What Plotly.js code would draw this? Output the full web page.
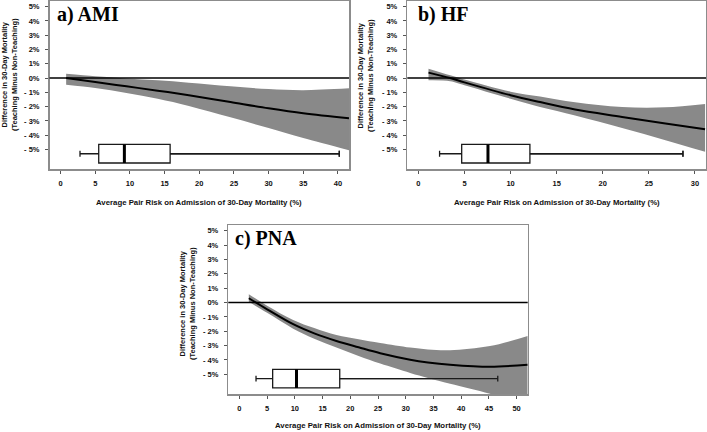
<!DOCTYPE html>
<html>
<head>
<meta charset="utf-8">
<script src="https://cdn.plot.ly/plotly-3.0.1.min.js"></script>
<style>
  body { margin: 0; background: #fff; }
  #graph { width: 707px; height: 432px; }
</style>
</head>
<body>
<div id="graph"></div>
<script>
// values (x = pair risk %, y = difference in mortality %)
const amiX = [0.8, 5, 9.5, 14, 18.5, 24.5, 30, 35, 41.6];
const amiMean = [0.0, -0.28, -0.58, -0.88, -1.2, -1.68, -2.12, -2.47, -2.82];
const amiUpper = [0.3, 0.12, -0.03, -0.16, -0.32, -0.58, -0.77, -0.85, -0.72];
const amiLower = [-0.47, -0.7, -1.05, -1.45, -1.95, -2.75, -3.5, -4.2, -5.05];
const amiBox = [2.8, 5.5, 9.2, 15.8, 40.2]; // lower whisker, q1, median, q3, upper whisker

const hfX = [1.1, 3.45, 5, 10, 13.2, 17, 22.1, 26.8, 31.1];
const hfMean = [0.38, 0.0, -0.3, -1.2, -1.68, -2.2, -2.72, -3.19, -3.59];
const hfUpper = [0.66, 0.2, -0.1, -0.95, -1.29, -1.7, -2.03, -2.05, -1.82];
const hfLower = [-0.16, -0.22, -0.5, -1.45, -2.03, -2.62, -3.5, -4.35, -5.17];
const hfBox = [2.3, 4.7, 7.55, 12.1, 28.7];

const pnaX = [1.7, 5, 9.7, 13.5, 17.5, 21.5, 25.4, 30.8, 34, 38, 45.2, 52];
const pnaMean = [0.3, -0.47, -1.51, -2.15, -2.68, -3.12, -3.53, -3.98, -4.17, -4.33, -4.47, -4.33];
const pnaUpper = [0.58, -0.22, -1.21, -1.78, -2.26, -2.56, -2.82, -3.14, -3.27, -3.32, -3.03, -2.33];
const pnaLower = [0.05, -0.72, -1.82, -2.52, -3.14, -3.72, -4.25, -4.9, -5.25, -5.65, -6.35, -7.2];
const pnaBox = [3.0, 6.0, 10.3, 18.1, 46.6];

const panelLabels = ["a) AMI", "b) HF", "c) PNA"];
const yTickVals = [-5, -4, -3, -2, -1, 0, 1, 2, 3, 4, 5];
const yTickText = ["- 5%", "- 4%", "- 3%", "- 2%", "- 1%", "0%", "1%", "2%", "3%", "4%", "5%"];
const xTitle = "Average Pair Risk on Admission of 30-Day Mortality (%)";
const yTitle = "Difference in 30-Day Mortality<br>(Teaching Minus Non-Teaching)";

// pixel helpers, the page is 707x432 with no margins
const px = (x) => x / 707;
const py = (y) => 1 - y / 432;

const boxY = -5.3;
const boxH = 1.3;
const capW = 0.32;
const bold = { family: "Liberation Sans, Arial, sans-serif", size: 7.5, weight: "bold", color: "#111" };
const titleFont = { family: "Liberation Sans, Arial, sans-serif", size: 7.8, weight: "bold", color: "#111" };

let data = [];

function addPanel(n, xs, mean, upper, lower, box) {
  const xa = n === 1 ? "x" : "x" + n;
  const ya = n === 1 ? "y" : "y" + n;

  // boxplot of pair risk (box layer sits under scatter layer)
  data.push({
    type: "box", orientation: "h", xaxis: xa, yaxis: ya,
    y: [boxY], lowerfence: [box[0]], q1: [box[1]], median: [box[2]], q3: [box[3]], upperfence: [box[4]],
    width: boxH, whiskerwidth: capW, fillcolor: "#fff", boxpoints: false,
    line: { color: "#1a1a1a", width: 1.3 }
  });

  // confidence band
  data.push({ x: xs, y: lower, xaxis: xa, yaxis: ya, mode: "lines",
    line: { width: 0, shape: "spline", smoothing: 1 }, hoverinfo: "skip" });
  data.push({ x: xs, y: upper, xaxis: xa, yaxis: ya, mode: "lines", fill: "tonexty",
    fillcolor: "#898989", line: { width: 0, shape: "spline", smoothing: 1 }, hoverinfo: "skip" });
  // fitted curve
  data.push({ x: xs, y: mean, xaxis: xa, yaxis: ya, mode: "lines",
    line: { color: "#000", width: 2, shape: "spline", smoothing: 1 } });

  // upper whisker redrawn on top so it shows across the band
  const cap = capW * boxH / 2;
  data.push({ x: [box[3], box[4], null, box[4], box[4]], y: [boxY, boxY, null, boxY - cap, boxY + cap],
    xaxis: xa, yaxis: ya, mode: "lines", line: { color: "#1a1a1a", width: 1.3 } });
  // thick median bar
  data.push({ x: [box[2], box[2]], y: [boxY - boxH / 2, boxY + boxH / 2], xaxis: xa, yaxis: ya,
    mode: "lines", line: { color: "#000", width: 3 } });
}

addPanel(1, amiX, amiMean, amiUpper, amiLower, amiBox);
addPanel(2, hfX, hfMean, hfUpper, hfLower, hfBox);
addPanel(3, pnaX, pnaMean, pnaUpper, pnaLower, pnaBox);

function xAxis(anchor, domain, range, max) {
  let vals = [];
  for (let v = 0; v <= max; v += 5) vals.push(v);
  return {
    anchor: anchor, domain: domain, range: range, tickvals: vals, showgrid: false, zeroline: false,
    showline: true, mirror: true, linecolor: "#8c8c8c", linewidth: 1.5,
    ticks: "outside", ticklen: 3, tickcolor: "#555", tickfont: bold, ticklabelstandoff: 3
  };
}

function yAxis(anchor, domain) {
  return {
    anchor: anchor, domain: domain, range: [-6.37, 5.4], tickvals: yTickVals, ticktext: yTickText,
    showgrid: false, zeroline: false, showline: true, mirror: true, linecolor: "#8c8c8c", linewidth: 1.5,
    ticks: "outside", ticklen: 3, tickcolor: "#555", tickfont: bold, ticklabelstandoff: 4
  };
}

const topRow = [py(169), py(1)];
const bottomRow = [py(394), py(225)];

let layout = {
  width: 707, height: 432,
  margin: { l: 0, r: 0, t: 0, b: 0 },
  paper_bgcolor: "#fff", plot_bgcolor: "#fff",
  showlegend: false,
  xaxis: xAxis("y", [px(49.5), px(349)], [-1.6, 41.6], 40),
  yaxis: yAxis("x", topRow),
  xaxis2: xAxis("y2", [px(407.3), px(706)], [-1.2, 31.2], 30),
  yaxis2: yAxis("x2", topRow),
  xaxis3: xAxis("y3", [px(228.3), px(527.7)], [-2, 52], 50),
  yaxis3: yAxis("x3", bottomRow),
  shapes: [],
  annotations: []
};

// zero reference lines
["", "2", "3"].forEach((s) => {
  layout.shapes.push({ type: "line", xref: "x" + s + " domain", yref: "y" + s,
    x0: 0, x1: 1, y0: 0, y1: 0, line: { color: "#000", width: 1.5 } });
});

const panelPos = [
  { label: [55, 14], xt: [199, 202], yt: [9, 75] },
  { label: [415.7, 14], xt: [556.7, 202], yt: [365, 75] },
  { label: [233.3, 238.3], xt: [378, 425.7], yt: [187, 303] }
];

panelPos.forEach((p, i) => {
  layout.annotations.push({
    text: panelLabels[i], xref: "paper", yref: "paper", x: px(p.label[0]), y: py(p.label[1]),
    xanchor: "left", yanchor: "middle", showarrow: false,
    font: { family: "Liberation Serif, Times New Roman, serif", size: 20, weight: "bold", color: "#000" }
  });
  layout.annotations.push({
    text: xTitle, xref: "paper", yref: "paper", x: px(p.xt[0]), y: py(p.xt[1]),
    xanchor: "center", yanchor: "middle", showarrow: false, font: titleFont
  });
  layout.annotations.push({
    text: yTitle, xref: "paper", yref: "paper", x: px(p.yt[0]), y: py(p.yt[1]),
    xanchor: "center", yanchor: "middle", textangle: -90, showarrow: false, font: bold
  });
});

let config = { staticPlot: true };
Plotly.newPlot("graph", data, layout, config);
</script>
</body>
</html>
